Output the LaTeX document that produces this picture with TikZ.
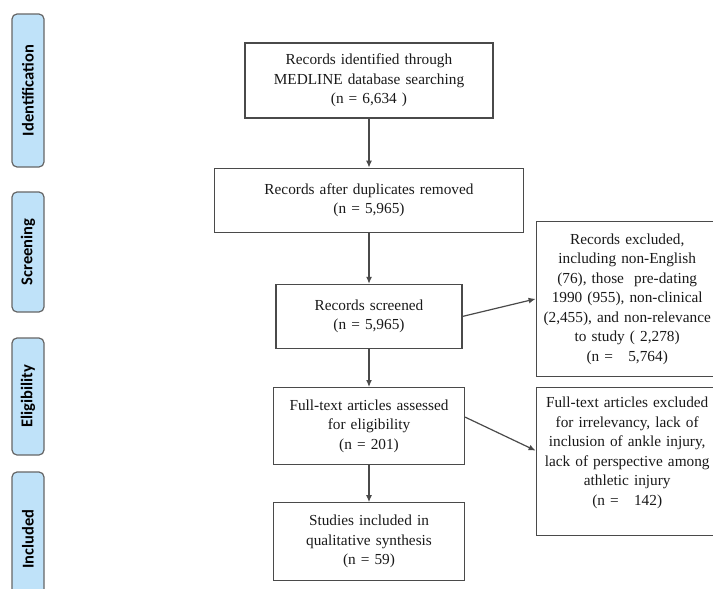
\documentclass[tikz,border=0pt]{standalone}
\usepackage{fontspec}
\setmainfont{Liberation Serif}
\newfontfamily\boxfont{Liberation Serif}
\newfontfamily\phasefont{Carlito}
\usepackage{tikz}
\usetikzlibrary{positioning,arrows.meta}
\definecolor{phaseblue}{HTML}{BFE2F9}
\definecolor{linegray}{HTML}{4A4A4A}
\tikzset{
  flowbox/.style={rectangle, draw=linegray, line width=1.2pt, inner sep=0pt, align=center,
                  font=\boxfont\fontsize{15.3}{19.5}\selectfont, text=black!90},
  phase/.style={rectangle, rounded corners=5pt, draw=black!60, fill=phaseblue, line width=1.2pt,
                rotate=90, minimum height=32pt, inner sep=0pt, text=black,
                font=\phasefont\bfseries\fontsize{16.5}{16.5}\selectfont},
  fwd/.style={-{Latex[length=7pt,width=6pt]}, line width=1.2pt, draw=linegray},
}

\begin{document}
\begin{tikzpicture}[x=1pt,y=-1pt]
\useasboundingbox (0,0) rectangle (713,589);
%Phases
\node[phase, minimum width=153pt] (identphase) at (28,90.5) {Identification};
\node[phase, minimum width=120pt] (screenphase) at (28,252) {Screening};
\node[phase, minimum width=117pt] (eligphase) at (28,396.5) {Eligibility};
\node[phase, minimum width=134pt] (inclphase) at (28,539) {Included};

%Nodes
\node[flowbox, text width=248pt, minimum height=75pt] (ident) at (369,80.5) {Records identified through\\MEDLINE database searching\\(n = 6,634 )};
\node[flowbox, text width=309pt, minimum height=64pt] (dups) [below=49pt of ident] {Records after duplicates removed\\(n = 5,965)};
\node[flowbox, text width=186pt, minimum height=64pt] (screen) [below=51pt of dups] {Records screened\\(n = 5,965)};
\node[flowbox, text width=191pt, minimum height=77pt] (full) [below=38pt of screen] {Full-text articles assessed\\for eligibility\\(n = 201)};
\node[flowbox, text width=191pt, minimum height=78pt] (incl) [below=37pt of full] {Studies included in\\qualitative synthesis\\(n = 59)};
\node[flowbox, text width=182pt, minimum height=155pt] (excl) [right=73pt of screen, yshift=17.5pt] {Records excluded,\\including non-English\\(76), those~~pre-dating\\1990 (955), non-clinical\\(2,455), and non-relevance\\to study (~2,278)\\(n =~~~5,764)};
\node[flowbox, text width=182pt, minimum height=148pt] (fullexcl) [below=10pt of excl] {Full-text articles excluded\\for irrelevancy, lack of\\inclusion of ankle injury,\\lack of perspective among\\athletic injury\\(n =~~~142)\par\vspace{18pt}};

%Lines
\draw[fwd] (ident) -- (dups);
\draw[fwd] (dups) -- (screen);
\draw[fwd] (screen) -- (full);
\draw[fwd] (full) -- (incl);
\draw[fwd] (screen.east) -- (excl.west);
\draw[fwd] ([yshift=9pt]full.east) -- ([yshift=11pt]fullexcl.west);
\end{tikzpicture}
\end{document}
